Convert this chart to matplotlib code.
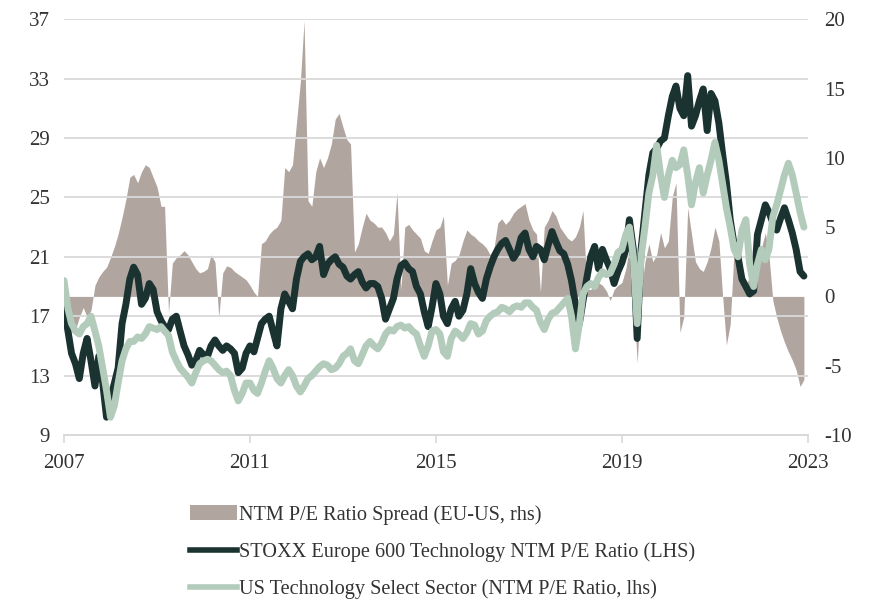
import numpy as np
import pandas as pd
import matplotlib
matplotlib.use('Agg')
import matplotlib.pyplot as plt
import matplotlib.dates as mdates
from matplotlib.patches import Patch
from matplotlib.lines import Line2D

plt.rcParams['font.family'] = ['Liberation Serif', 'DejaVu Serif']
plt.rcParams['axes.unicode_minus'] = False

# monthly values, Jan 2007 - Dec 2022
dates = pd.date_range('2007-01-01', periods=192, freq='MS')

stoxx_pe = [
    17.5, 16.0, 14.5, 13.8, 12.8, 14.5, 15.5, 14.0, 12.3, 14.3, 12.5, 10.2,
    11.5, 12.5, 13.5, 16.5, 17.8, 19.5, 20.3, 19.8, 17.8, 18.2, 19.2, 18.8,
    17.3, 16.7, 16.3, 16.1, 16.8, 17.0, 16.0, 15.0, 14.4, 13.7, 14.0, 14.7,
    14.4, 14.3, 15.0, 15.4, 15.0, 14.7, 15.0, 14.8, 14.5, 13.2, 13.5, 14.5,
    15.0, 14.6, 15.5, 16.5, 16.8, 17.0, 16.0, 15.0, 17.5, 18.5, 18.0, 17.5,
    19.5, 20.7, 21.0, 21.2, 20.8, 21.0, 21.7, 19.8, 20.5, 20.8, 21.0, 20.5,
    20.3, 19.7, 19.5, 19.8, 20.0, 19.3, 18.9, 19.2, 19.2, 19.0, 18.2, 16.8,
    17.5, 18.2, 19.5, 20.4, 20.6, 20.2, 20.0, 19.0, 18.5, 17.3, 16.3, 17.6,
    19.2, 18.5, 17.0, 16.5, 17.5, 18.0, 17.0, 17.4, 18.5, 20.2, 19.2, 18.6,
    18.2, 19.5, 20.3, 21.0, 21.5, 21.9, 22.1, 21.5, 20.9, 21.3, 22.3, 22.6,
    21.5, 21.0, 21.7, 21.5, 20.8, 21.8, 22.7, 22.0, 21.4, 21.2, 20.5, 19.4,
    17.8, 16.5, 18.0, 19.6, 21.0, 21.7, 20.2, 21.5, 20.8, 20.2, 19.2, 20.0,
    20.6, 21.5, 23.5, 21.5, 15.5, 21.5, 24.0, 26.5, 28.0, 28.3, 28.8, 29.0,
    30.5, 31.8, 32.5, 31.0, 30.5, 33.2, 29.8, 30.5, 31.5, 32.3, 29.5, 32.0,
    31.5, 30.0, 28.0, 26.0, 23.5, 21.8, 21.0, 19.5, 19.0, 18.5, 18.7, 22.5,
    23.5, 24.5, 24.0, 23.3, 22.8, 23.6, 24.3, 23.5, 22.6, 21.5, 20.0, 19.7,
]

us_pe = [
    19.4, 17.5, 16.5, 16.0, 15.8, 16.3, 16.5, 17.0, 16.0, 15.0, 13.5, 12.0,
    10.2, 11.0, 12.5, 14.0, 14.8, 15.3, 15.3, 15.6, 15.5, 15.8, 16.3, 16.2,
    16.1, 16.3, 16.0, 15.7, 14.6, 14.0, 13.5, 13.2, 12.9, 12.5, 13.2, 13.8,
    14.0, 14.1, 14.0, 13.7, 13.4, 13.2, 13.3, 13.0, 12.0, 11.3, 11.8, 12.5,
    12.5, 12.0, 11.8, 12.5, 13.3, 14.0, 13.5, 12.8, 12.5, 13.0, 13.4, 13.0,
    12.3, 11.9, 12.3, 12.8, 13.0, 13.3, 13.6, 13.8, 13.7, 13.4, 13.5, 13.8,
    14.3, 14.5, 14.8, 14.0, 13.8, 14.4, 15.0, 15.3, 15.0, 14.8, 15.2, 15.8,
    16.1, 16.0, 16.3, 16.4, 16.2, 16.3, 16.0, 15.8, 15.0, 14.3, 15.0, 16.0,
    16.1, 15.8, 14.6, 14.3, 15.5, 16.0, 15.8, 15.5, 15.9, 16.5, 16.4, 15.8,
    16.0, 16.7, 17.0, 17.2, 17.3, 17.6, 17.5, 17.3, 17.6, 17.7, 17.6, 17.9,
    17.9, 17.6, 17.4, 16.6, 16.1, 16.8, 17.2, 17.3, 17.6, 17.9, 18.2, 17.0,
    14.8, 16.5, 18.5, 19.0, 19.2, 19.0, 19.6, 20.0, 19.8, 19.9, 20.5, 21.3,
    21.5, 22.5, 23.0, 21.0, 16.5, 21.0, 23.0, 25.3, 26.5, 28.5, 26.5, 25.0,
    26.5, 27.5, 27.0, 27.2, 28.2, 26.5, 24.5, 26.0, 27.0, 25.3, 26.5, 27.5,
    28.7, 27.5, 26.0, 24.3, 23.0, 21.5, 21.0, 22.8, 23.5, 20.5, 19.0, 20.5,
    21.5, 20.8, 21.5, 23.7, 24.5, 25.5, 26.5, 27.3, 26.5, 25.3, 24.0, 23.0,
]

spread = [
    -0.5, -1.8, -2.6, -2.4, -1.5, -0.8, -1.5, -1.0, 0.8, 1.4, 1.8, 2.1,
    2.8, 3.6, 4.5, 5.7, 7.0, 8.6, 8.8, 8.2, 9.0, 9.5, 9.3, 8.6,
    7.9, 6.5, 6.5, -1.2, 2.4, 2.8, 3.0, 3.3, 3.0, 2.5, 2.0, 1.7,
    1.8, 2.0, 3.0, 2.5, -1.5, 1.7, 2.2, 2.1, 1.8, 1.6, 1.4, 1.2,
    0.8, 0.3, 0.0, 3.8, 4.0, 4.5, 4.8, 5.0, 5.5, 9.3, 9.0, 9.5,
    12.5, 15.5, 19.9, 6.9, 6.5, 9.0, 10.0, 9.3, 10.0, 11.0, 12.8, 13.2,
    12.2, 11.3, 11.0, 3.2, 3.8, 5.0, 6.0, 5.5, 5.3, 5.0, 5.0, 4.6,
    4.0, 4.5, 7.5, 0.5, 5.0, 5.2, 4.8, 4.5, 4.2, 3.3, 3.1, 4.0,
    4.8, 5.0, 5.8, 0.8, 2.4, 2.6, 3.0, 4.0, 4.8, 4.5, 4.3, 4.0,
    3.8, 3.5, 3.0, 3.5, 5.3, 5.6, 5.2, 5.5, 6.0, 6.3, 6.5, 6.7,
    5.5, 4.8, 4.5, 0.3, 5.0, 5.5, 6.2, 5.8, 5.0, 4.6, 4.2, 4.0,
    4.3, 5.0, 6.2, 0.5, 0.5, 0.8, 1.0, 0.8, 0.4, -0.3, 0.5, 0.8,
    1.0, 2.0, 3.6, 0.3, -4.8, 0.3, 2.5, 3.8, 2.5, 3.0, 4.6, 3.5,
    4.0, 7.2, 8.2, -2.6, -1.5, 6.4, 4.5, 2.5, 2.0, 1.8, 2.5, 3.5,
    5.0, 4.0, 0.2, -3.5, -2.0, 3.5, 2.0, 1.0, 0.7, 1.5, 2.4, 2.8,
    3.5, 4.6, 3.0, -0.3, -1.5, -2.5, -3.3, -4.0, -4.6, -5.3, -6.5, -6.0,
]

spread_col = '#b1a5a0'
dark_col = '#1a3331'
light_col = '#b3cbbb'
text_col = '#333333'

fig = plt.figure(figsize=(8.71, 6.0), dpi=100)
ax1 = fig.add_axes([0.0735, 0.275, 0.854, 0.693])
ax2 = ax1.twinx()
ax1.set_zorder(ax2.get_zorder() + 1)
ax1.patch.set_visible(False)

# spread on right axis
ax2.fill_between(dates, 0, spread, color=spread_col, lw=0)
ax2.set_ylim(-10, 20)
ax2.set_yticks([-10, -5, 0, 5, 10, 15, 20])

# P/E lines on left axis
ax1.plot(dates, stoxx_pe, color=dark_col, lw=5, solid_joinstyle='round', solid_capstyle='round')
ax1.plot(dates, us_pe, color=light_col, lw=5, solid_joinstyle='round', solid_capstyle='round')
ax1.set_ylim(9, 37)
ax1.set_yticks(range(9, 38, 4))
ax1.grid(True, axis='y', color='#d9d9d9', lw=1.3)
ax1.set_axisbelow(True)

ax1.set_xlim(pd.Timestamp('2007-01-01'), pd.Timestamp('2023-01-01'))
ax1.set_xticks([pd.Timestamp(f'{y}-01-01') for y in [2007, 2011, 2015, 2019, 2023]])
ax1.xaxis.set_major_formatter(mdates.DateFormatter('%Y'))

for ax in (ax1, ax2):
    for s in ['top', 'left', 'right']:
        ax.spines[s].set_visible(False)
    ax.spines['bottom'].set_color('#d9d9d9')
    ax.spines['bottom'].set_linewidth(1.3)
    ax.tick_params(colors=text_col, labelsize=15)
ax1.tick_params(axis='y', length=0, pad=10)
ax2.tick_params(axis='y', length=0, pad=12)
ax1.tick_params(axis='x', length=6, width=1.2, color='#d9d9d9', pad=8)

handles = [
    Patch(facecolor=spread_col, edgecolor='none'),
    Line2D([], [], color=dark_col, lw=4),
    Line2D([], [], color=light_col, lw=4),
]
labels = [
    'NTM P/E Ratio Spread (EU-US, rhs)',
    'STOXX Europe 600 Technology NTM P/E Ratio (LHS)',
    'US Technology Select Sector (NTM P/E Ratio, lhs)',
]
fig.legend(handles, labels, loc='upper left', bbox_to_anchor=(0.209, 0.172),
           frameon=False, fontsize=14.6, handlelength=2.3, handletextpad=0.1,
           labelspacing=0.86, borderaxespad=0, labelcolor=text_col)

fig.savefig('out.png', dpi=100)
